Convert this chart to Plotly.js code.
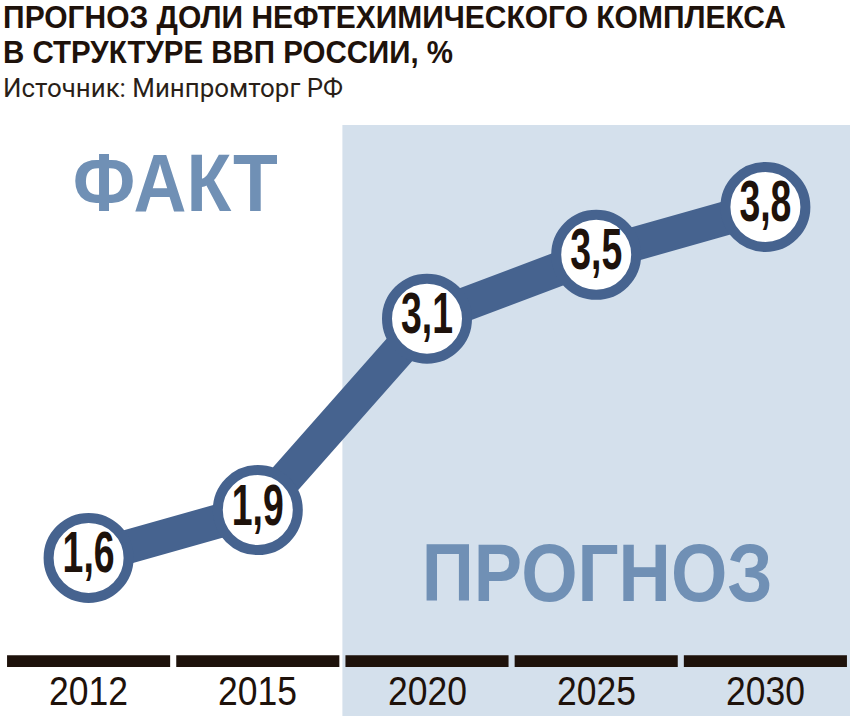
<!DOCTYPE html>
<html>
<head>
<meta charset="utf-8">
<script src="https://cdn.plot.ly/plotly-3.0.1.min.js"></script>
<style>html,body{margin:0;padding:0;background:#fff}#chart{width:850px;height:716px}</style>
</head>
<body>
<div id="chart"></div>
<script>
const years = ['2012', '2015', '2020', '2025', '2030'];
const share = [1.6, 1.9, 3.1, 3.5, 3.8];
const shareLabels = share.map(v => v.toFixed(1).replace('.', ','));
const titleLines = ['ПРОГНОЗ ДОЛИ НЕФТЕХИМИЧЕСКОГО КОМПЛЕКСА', 'В СТРУКТУРЕ ВВП РОССИИ, %'];
const sourceText = 'Источник: Минпромторг РФ';
const factLabel = 'ФАКТ';
const forecastLabel = 'ПРОГНОЗ';
const forecastStart = 2; // index of first forecast year

const SANS = '"Liberation Sans", Arial, sans-serif';
const blue = '#46638f';
const dark = '#1e120b';
const pale = '#7090b5';

const shapes = [{
  type: 'rect', layer: 'below', xref: 'x', yref: 'paper',
  x0: forecastStart - 0.5, x1: years.length - 0.5, y0: 0, y1: 1,
  fillcolor: '#d4e0ec', line: {width: 0}
}];
years.forEach((y, i) => shapes.push({
  type: 'rect', layer: 'below', xref: 'x', yref: 'paper',
  x0: i - 0.482, x1: i + 0.482, y0: 0.083, y1: 0.103,
  fillcolor: dark, line: {width: 0}
}));

// fit: [target width in px, anchor] used to condense the text horizontally after drawing
const annotations = [];
const annFit = [];
function addAnn(a, fit) { annotations.push(Object.assign({showarrow: false, borderpad: 0}, a)); annFit.push(fit); }

addAnn({text: titleLines[0], xref: 'paper', yref: 'paper', x: 0, y: 1.1819, xanchor: 'left', yanchor: 'middle', xshift: -2,
  font: {family: SANS, size: 31, weight: 700, color: dark}}, [783, 'left']);
addAnn({text: titleLines[1], xref: 'paper', yref: 'paper', x: 0, y: 1.1227, xanchor: 'left', yanchor: 'middle', xshift: -2,
  font: {family: SANS, size: 31, weight: 700, color: dark}}, [450, 'left']);
addAnn({text: sourceText, xref: 'paper', yref: 'paper', x: 0, y: 1.062, xanchor: 'left', yanchor: 'middle', xshift: -2,
  font: {family: 'Roboto, "DejaVu Sans", sans-serif', size: 26, color: '#2a1f18'}}, [340, 'left']);
addAnn({text: factLabel, xref: 'paper', yref: 'paper', x: 0.2027, y: 0.9019, xanchor: 'center', yanchor: 'middle',
  font: {family: SANS, size: 81, weight: 700, color: pale}}, [205, 'center']);
addAnn({text: forecastLabel, xref: 'paper', yref: 'paper', x: 0.701, y: 0.242, xanchor: 'center', yanchor: 'middle',
  font: {family: SANS, size: 81, weight: 700, color: pale}}, [351, 'center']);
years.forEach((y, i) => addAnn({
  text: y, xref: 'x', yref: 'paper', x: i, y: 0.0431, xanchor: 'center', yanchor: 'middle',
  font: {family: SANS, size: 40, color: dark}
}, [79, 'center']));

const trace = {
  type: 'scatter', mode: 'lines+markers+text',
  x: years, y: share, text: shareLabels, textposition: 'middle center',
  line: {color: blue, width: 34},
  marker: {size: 80, color: '#ffffff', line: {color: blue, width: 10}},
  textfont: {family: SANS, size: 58, weight: 700, color: dark},
  hoverinfo: 'none', cliponaxis: false
};

const layout = {
  width: 850, height: 716,
  margin: {l: 4, r: 0, t: 125, b: 0},
  paper_bgcolor: '#ffffff', plot_bgcolor: 'rgba(0,0,0,0)',
  showlegend: false,
  xaxis: {type: 'category', range: [-0.5, 4.5], showgrid: false, zeroline: false, showticklabels: false, ticks: '', showline: false},
  yaxis: {range: [0.609, 4.314], showgrid: false, zeroline: false, showticklabels: false, ticks: '', showline: false},
  shapes: shapes, annotations: annotations
};

function condense(el, scale, anchor) {
  const b = el.getBBox();
  if (!b.width) return;
  const ox = anchor === 'left' ? b.x : b.x + b.width / 2;
  const prev = el.getAttribute('transform') || '';
  el.setAttribute('transform', (prev + ` translate(${ox},0) scale(${scale},1) translate(${-ox},0)`).trim());
}

Plotly.newPlot('chart', [trace], layout, {displayModeBar: false, staticPlot: true}).then(gd => {
  gd.querySelectorAll('g.annotation').forEach(g => {
    const idx = +g.getAttribute('data-index');
    const t = g.querySelector('text.annotation-text');
    const fit = annFit[idx];
    if (!t || !fit) return;
    const w = t.getBBox().width;
    if (w) condense(t, fit[0] / w, fit[1]);
  });
  const pts = gd.querySelectorAll('g.textpoint text');
  if (pts.length) {
    const s = 52 / pts[0].getBBox().width; // target width of the "1,6" label
    pts.forEach(t => condense(t, s, 'center'));
  }
});
</script>
</body>
</html>
